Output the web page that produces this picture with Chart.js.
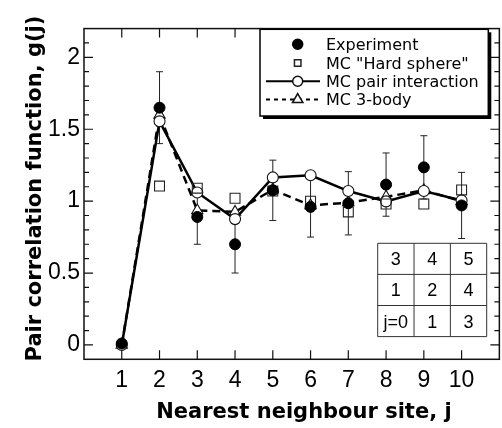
<!DOCTYPE html>
<html>
<head>
<meta charset="utf-8">
<script src="https://cdn.jsdelivr.net/npm/chart.js@4.4.1/dist/chart.umd.min.js"></script>
<style>
html,body{margin:0;padding:0;overflow:hidden;background:#fff;}
canvas{display:block;}
</style>
</head>
<body>
<canvas id="c" width="532" height="428" style="width:532px;height:428px"></canvas>
<script>
// ---- data ----
const sites = [1, 2, 3, 4, 5, 6, 7, 8, 9, 10];
const experiment = [0.01, 1.65, 0.89, 0.70, 1.075, 0.96, 0.985, 1.115, 1.235, 0.97];
const experimentErr = [0, 0.25, 0.19, 0.20, 0.21, 0.21, 0.22, 0.22, 0.22, 0.23];
const hardSphere = [null, 1.105, 1.09, 1.02, 1.07, 1.0, 0.925, 0.98, 0.98, 1.078];
const pairInteraction = [0, 1.555, 1.06, 0.875, 1.165, 1.18, 1.07, 0.998, 1.07, 1.005];
const threeBody = [0, 1.60, 0.935, 0.925, 1.08, 0.97, 0.99, 1.03, 1.075, 1.0];
const seriesLabels = ['Experiment', 'MC "Hard sphere"', 'MC pair interaction', 'MC 3-body'];
const xTickValues = [1, 2, 3, 4, 5, 6, 7, 8, 9, 10];
const yTickValues = [0, 0.5, 1, 1.5, 2];
const yTickLabels = ['0', '0.5', '1', '1.5', '2'];
const yMinorTicks = [-0.1, 0, 0.1, 0.2, 0.3, 0.4, 0.5, 0.6, 0.7, 0.8, 0.9, 1.0, 1.1, 1.2, 1.3, 1.4, 1.5, 1.6, 1.7, 1.8, 1.9, 2.0, 2.1, 2.2];
const frameX = [0, 11];
const frameY = [-0.1, 2.2];
const xTitle = 'Nearest neighbour site, j';
const yTitle = 'Pair correlation function, g(j)';
const tableRows = [['3', '4', '5'], ['1', '2', '4'], ['j=0', '1', '3']];

const pts = arr => sites.map((s, i) => ({x: s, y: arr[i]}));

const framePlugin = {
  id: 'frame',
  beforeDatasetsDraw(chart) {
    const ctx = chart.ctx, xs = chart.scales.x, ys = chart.scales.y;
    const L = xs.getPixelForValue(frameX[0]), R = xs.getPixelForValue(frameX[1]);
    const B = ys.getPixelForValue(frameY[0]), T = ys.getPixelForValue(frameY[1]);
    ctx.save();
    ctx.strokeStyle = '#111';
    ctx.lineWidth = 1.5;
    ctx.strokeRect(L, T, R - L, B - T);
    ctx.lineWidth = 1.2;
    ctx.beginPath();
    xTickValues.forEach(v => {
      const p = xs.getPixelForValue(v);
      ctx.moveTo(p, B); ctx.lineTo(p, B - 9);
      ctx.moveTo(p, T); ctx.lineTo(p, T + 9);
    });
    yMinorTicks.forEach(v => {
      if (v <= frameY[0] || v >= frameY[1]) return;
      const p = ys.getPixelForValue(v);
      const major = yTickValues.some(t => Math.abs(t - v) < 1e-6);
      const len = major ? 9 : 5;
      ctx.moveTo(L, p); ctx.lineTo(L + len, p);
      ctx.moveTo(R, p); ctx.lineTo(R - len, p);
    });
    ctx.stroke();
    // error bars of the experiment
    ctx.strokeStyle = '#222';
    ctx.lineWidth = 1;
    ctx.beginPath();
    sites.forEach((s, i) => {
      const e = experimentErr[i];
      if (!e) return;
      const x = xs.getPixelForValue(s);
      const y1 = ys.getPixelForValue(experiment[i] + e);
      const y2 = ys.getPixelForValue(experiment[i] - e);
      ctx.moveTo(x, y1); ctx.lineTo(x, y2);
      ctx.moveTo(x - 3.5, y1); ctx.lineTo(x + 3.5, y1);
      ctx.moveTo(x - 3.5, y2); ctx.lineTo(x + 3.5, y2);
    });
    ctx.stroke();
    ctx.restore();
  }
};

const insetPlugin = {
  id: 'inset',
  afterDraw(chart) {
    const ctx = chart.ctx;
    const drawPoint = Chart.helpers.drawPoint;
    ctx.save();
    // ---- legend box ----
    const bx = 260, by = 29.3, bw = 228.3, bh = 86.7;
    ctx.fillStyle = '#000';
    ctx.fillRect(bx + 3, by + 3, bw, bh);
    ctx.fillStyle = '#fff';
    ctx.fillRect(bx, by, bw, bh);
    ctx.strokeStyle = '#000';
    ctx.lineWidth = 1.5;
    ctx.strokeRect(bx, by, bw, bh);
    const mx = 297.7, lx1 = 266, lx2 = 320, tx = 326;
    const rowsY = [44.2, 62.9, 81.3, 99.5];
    const ds = chart.data.datasets;
    ds.forEach((d, i) => {
      const y = rowsY[i];
      if (d.showLine !== false) {
        ctx.save();
        ctx.strokeStyle = '#000';
        ctx.lineWidth = 2;
        ctx.setLineDash(d.borderDash ? [4, 4] : []);
        ctx.beginPath(); ctx.moveTo(lx1, y); ctx.lineTo(lx2, y); ctx.stroke();
        ctx.restore();
      }
      ctx.fillStyle = d.pointBackgroundColor;
      ctx.strokeStyle = d.pointBorderColor;
      const r = d.pointStyle === 'rect' ? 4.6 : (d.pointStyle === 'triangle' ? 6 : 5);
      drawPoint(ctx, {pointStyle: d.pointStyle, radius: r, borderWidth: 1.1, rotation: 0}, mx, y);
      ctx.fillStyle = '#000';
      ctx.font = '16px "DejaVu Sans"';
      ctx.textBaseline = 'alphabetic';
      ctx.textAlign = 'left';
      ctx.fillText(d.label, tx, y + 5.8);
    });
    // ---- lattice table ----
    const tx0 = 377.7, ty0 = 243.3, cw = 36.33, ch = 31.1;
    ctx.strokeStyle = '#333';
    ctx.lineWidth = 1;
    ctx.beginPath();
    for (let k = 0; k <= 3; k++) {
      ctx.moveTo(tx0 + k * cw, ty0); ctx.lineTo(tx0 + k * cw, ty0 + 3 * ch);
      ctx.moveTo(tx0, ty0 + k * ch); ctx.lineTo(tx0 + 3 * cw, ty0 + k * ch);
    }
    ctx.stroke();
    ctx.fillStyle = '#000';
    ctx.font = '18px "Liberation Sans", Arial, sans-serif';
    ctx.textAlign = 'center';
    ctx.textBaseline = 'alphabetic';
    tableRows.forEach((row, r) => row.forEach((t, c) => {
      ctx.fillText(t, tx0 + (c + 0.5) * cw, ty0 + (r + 0.5) * ch + 6.5);
    }));
    ctx.restore();
  }
};

new Chart(document.getElementById('c'), {
  type: 'line',
  data: {
    datasets: [
      {label: seriesLabels[0], data: pts(experiment), showLine: false,
       pointStyle: 'circle', pointRadius: 5.5, pointBackgroundColor: '#000', pointBorderColor: '#000', pointBorderWidth: 1},
      {label: seriesLabels[1], data: pts(hardSphere), showLine: false,
       pointStyle: 'rect', pointRadius: 7, pointBackgroundColor: 'rgba(255,255,255,0)', pointBorderColor: '#222', pointBorderWidth: 1.1},
      {label: seriesLabels[2], data: pts(pairInteraction), borderColor: '#000', borderWidth: 2.5, tension: 0,
       pointStyle: 'circle', pointRadius: 5.5, pointBackgroundColor: '#fff', pointBorderColor: '#111', pointBorderWidth: 1.1},
      {label: seriesLabels[3], data: pts(threeBody), borderColor: '#000', borderWidth: 2.5, borderDash: [8, 5], tension: 0,
       pointStyle: 'triangle', pointRadius: 6.5, pointBackgroundColor: '#fff', pointBorderColor: '#111', pointBorderWidth: 1.1}
    ]
  },
  options: {
    responsive: false,
    animation: false,
    devicePixelRatio: 1,
    layout: {padding: {top: 6.3, right: 3, left: 0, bottom: 0}},
    plugins: {legend: {display: false}, tooltip: {enabled: false}},
    scales: {
      x: {
        type: 'linear', min: 0, max: 11.65, position: 'bottom',
        afterBuildTicks: s => { s.ticks = xTickValues.map(v => ({value: v})); },
        afterFit: s => { s.height = 68.7; },
        grid: {display: false, drawTicks: false},
        border: {display: false},
        ticks: {color: '#000', font: {family: '"Liberation Sans", Arial, sans-serif', size: 23}, padding: 8, maxRotation: 0, autoSkip: false,
                callback: v => String(v)},
        title: {display: true, text: xTitle, color: '#000',
                font: {family: '"DejaVu Sans"', size: 21, weight: 'bold'}, padding: {top: 0, bottom: 2.7}}
      },
      y: {
        type: 'linear', min: -0.1, max: 2.275,
        afterBuildTicks: s => { s.ticks = yTickValues.map(v => ({value: v})); },
        afterFit: s => { s.width = 84; },
        grid: {display: false, drawTicks: false},
        border: {display: false},
        ticks: {color: '#000', font: {family: '"Liberation Sans", Arial, sans-serif', size: 23}, padding: 4,
                callback: v => { const k = yTickValues.findIndex(t => Math.abs(t - v) < 1e-9); return k >= 0 ? yTickLabels[k] : ''; }},
        title: {display: true, text: yTitle, color: '#000',
                font: {family: '"DejaVu Sans"', size: 21, weight: 'bold'}, padding: {top: 23.1, bottom: 0}}
      }
    }
  },
  plugins: [framePlugin, insetPlugin]
});
</script>
</body>
</html>
